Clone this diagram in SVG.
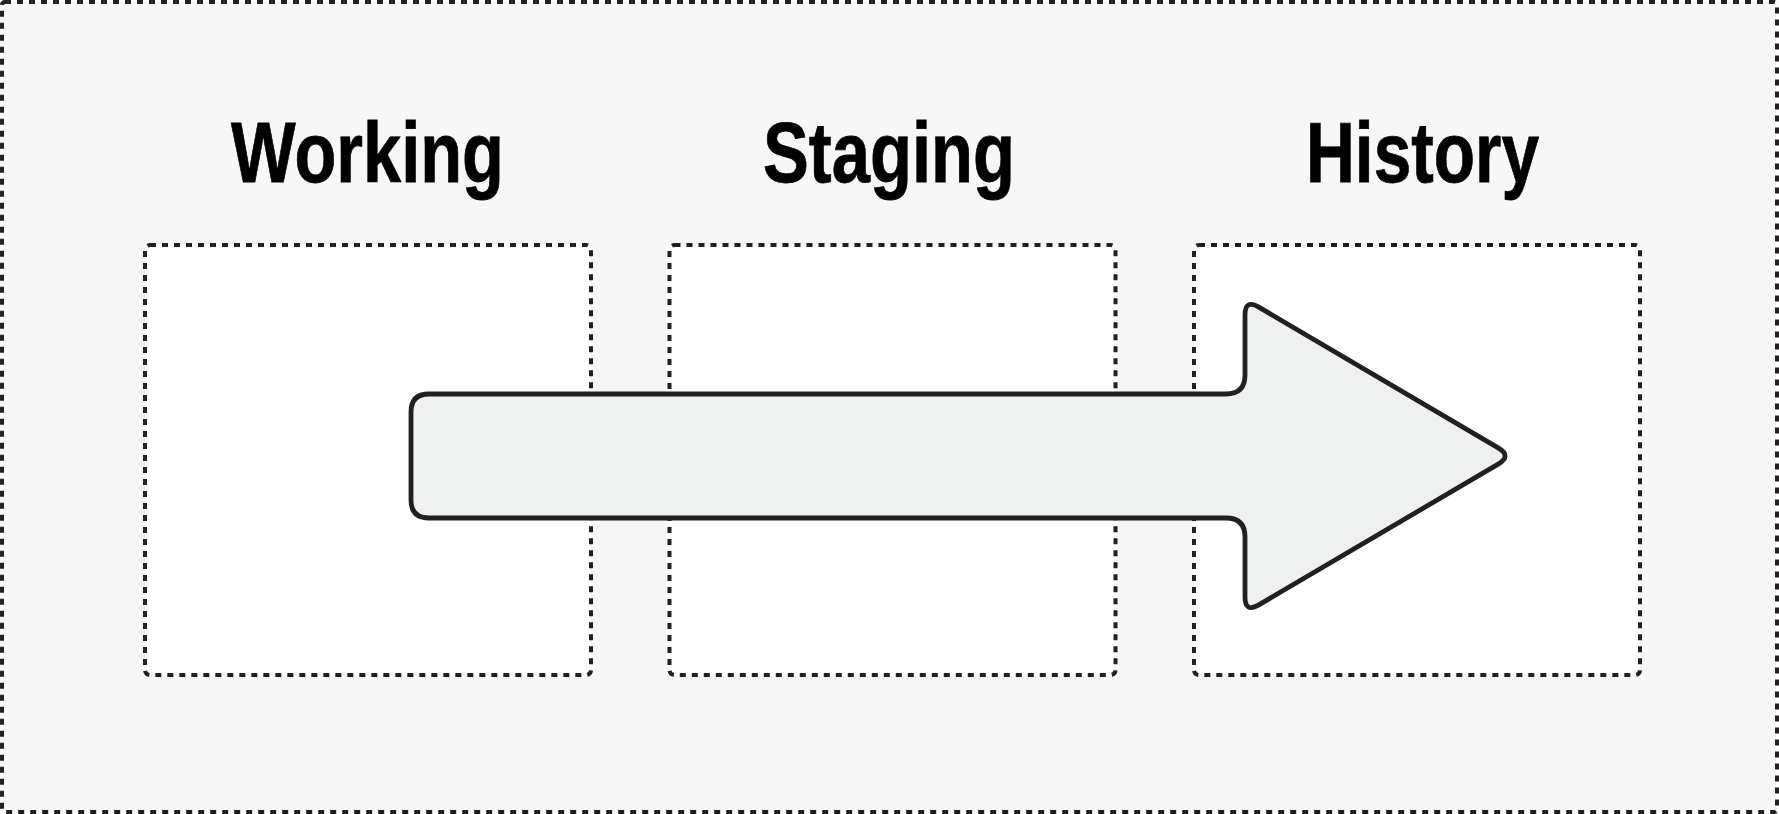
<svg xmlns="http://www.w3.org/2000/svg" width="1779" height="814" viewBox="0 0 1779 814">
  <style>
    .frame { fill: #f7f7f7; stroke: #231f20; stroke-width: 4; stroke-dasharray: 6 6; }
    .box { fill: #ffffff; stroke: #231f20; stroke-width: 4; stroke-dasharray: 6 6; }
    .title { font-family: "Liberation Sans", Arial, sans-serif; font-weight: bold; font-size: 86px; fill: #000000; text-anchor: middle; stroke: #000000; stroke-width: 0.8; }
    .arrow { fill: #eff1f0; stroke: #231f20; stroke-width: 4.8; stroke-linejoin: round; }
  </style>
  <rect class="frame" x="2" y="2" width="1775" height="810" rx="3"/>
  <g id="working">
    <rect class="box" x="145" y="245" width="446" height="430" rx="5"/>
    <text class="title" x="367.5" y="182" textLength="273" lengthAdjust="spacingAndGlyphs">Working</text>
  </g>
  <g id="staging">
    <rect class="box" x="669.5" y="245" width="446" height="430" rx="5"/>
    <text class="title" x="889" y="182" textLength="252" lengthAdjust="spacingAndGlyphs">Staging</text>
  </g>
  <g id="history">
    <rect class="box" x="1194" y="245" width="446" height="430" rx="5"/>
    <text class="title" x="1422.5" y="182" textLength="233" lengthAdjust="spacingAndGlyphs">History</text>
  </g>
  <g id="connectors">
    <path class="arrow" d="M 429,394 L 1226,394 Q 1245,394 1245,375 L 1245,315 Q 1245,299 1258.8,307.1 L 1498.2,447.9 Q 1512,456 1498.2,464.1 L 1258.8,604.9 Q 1245,613 1245,597 L 1245,537 Q 1245,518 1226,518 L 429,518 Q 411,518 411,500 L 411,412 Q 411,394 429,394 Z"/>
  </g>
</svg>
